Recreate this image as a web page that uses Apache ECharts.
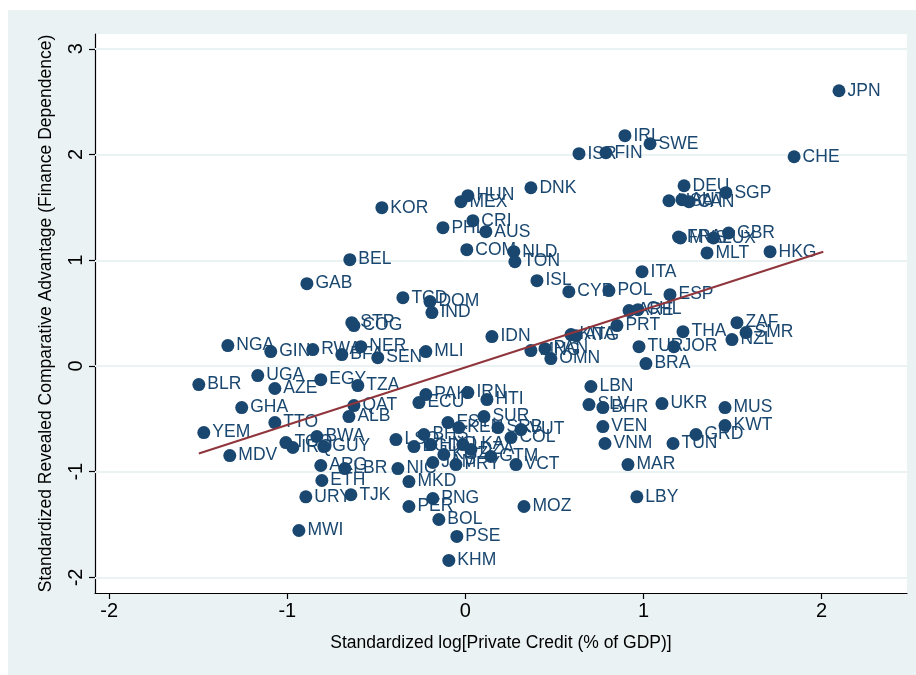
<!DOCTYPE html>
<html>
<head>
<meta charset="utf-8">
<script src="https://cdn.jsdelivr.net/npm/echarts@6/dist/echarts.min.js"></script>
<style>
html,body{margin:0;padding:0;background:#fff;}
#chart{width:916px;height:675px;}
</style>
</head>
<body>
<div id="chart"></div>
<script>
// ---- data ----
const codes = ["JPN","IRL","SWE","ISR","FIN","CHE","DNK","DEU","SGP","USA","AUT","CAN","HUN","MEX","KOR","CRI","PHL","AUS","COM","NLD","TON","BEL","GAB","ISL","CYP","POL","ITA","ESP","PRT","ARE","CHL","THA","ZAF","SMR","NZL","TUR","JOR","BRA","IDN","KNA","ATG","MNG","PAN","OMN","IND","TCD","DOM","STP","COG","NGA","GIN","RWA","BFA","NER","SEN","MLI","BLR","UGA","AZE","EGY","TZA","GHA","QAT","ALB","TTO","YEM","MDV","TGO","IRQ","BWA","GUY","ARG","LBR","ETH","URY","TJK","MWI","NIC","MKD","PNG","PER","BOL","PSE","KHM","MOZ","VCT","LBY","MAR","VNM","VEN","LBN","SLV","BHR","UKR","MUS","KWT","GRD","TUN","PAK","ECU","IRN","HTI","SUR","EST","KEN","SRB","VUT","COL","LSO","BHS","BGD","HND","KGZ","LKA","DZA","GTM","JAM","PRY","FRA","MYS","LUX","GBR","MLT","HKG"];
const privCredit = [2.098,0.896,1.037,0.638,0.789,1.846,0.368,1.228,1.463,1.143,1.216,1.256,0.014,-0.025,-0.469,0.042,-0.126,0.115,0.008,0.272,0.278,-0.649,-0.890,0.402,0.581,0.806,0.992,1.149,0.851,0.919,0.969,1.222,1.525,1.576,1.497,0.975,1.171,1.014,0.149,0.593,0.621,0.368,0.447,0.480,-0.188,-0.351,-0.199,-0.638,-0.626,-1.334,-1.093,-0.857,-0.694,-0.587,-0.492,-0.222,-1.497,-1.166,-1.070,-0.812,-0.604,-1.256,-0.626,-0.654,-1.070,-1.469,-1.323,-1.008,-0.969,-0.834,-0.795,-0.812,-0.677,-0.806,-0.896,-0.643,-0.935,-0.379,-0.317,-0.183,-0.317,-0.149,-0.048,-0.093,0.329,0.284,0.963,0.913,0.784,0.772,0.705,0.694,0.772,1.104,1.458,1.458,1.295,1.166,-0.222,-0.261,0.014,0.121,0.104,-0.098,-0.037,0.183,0.312,0.256,-0.390,-0.233,-0.289,-0.194,-0.121,-0.014,0.031,0.143,-0.183,-0.053,1.197,1.208,1.393,1.478,1.357,1.711];
const rcaFin = [2.603,2.178,2.102,2.008,2.017,1.979,1.686,1.705,1.639,1.563,1.573,1.554,1.611,1.554,1.497,1.374,1.308,1.270,1.100,1.081,0.987,1.006,0.779,0.807,0.703,0.713,0.892,0.675,0.382,0.524,0.533,0.325,0.410,0.316,0.250,0.183,0.183,0.023,0.278,0.297,0.287,0.146,0.164,0.070,0.505,0.646,0.609,0.410,0.382,0.193,0.136,0.155,0.108,0.183,0.079,0.136,-0.176,-0.091,-0.213,-0.129,-0.185,-0.393,-0.374,-0.478,-0.535,-0.630,-0.847,-0.724,-0.771,-0.667,-0.762,-0.941,-0.970,-1.083,-1.237,-1.218,-1.556,-0.970,-1.093,-1.253,-1.329,-1.452,-1.612,-1.839,-1.329,-0.932,-1.237,-0.932,-0.733,-0.573,-0.194,-0.365,-0.393,-0.355,-0.393,-0.563,-0.648,-0.733,-0.270,-0.346,-0.251,-0.318,-0.478,-0.535,-0.582,-0.582,-0.601,-0.677,-0.696,-0.648,-0.762,-0.743,-0.837,-0.743,-0.790,-0.856,-0.913,-0.932,1.220,1.211,1.211,1.258,1.069,1.081];
const fitX = [-1.497, 2.010];
const fitY = [-0.828, 1.081];
const xTicks = [-2,-1,0,1,2];
const yTicks = [-2,-1,0,1,2,3];
const xTitle = "Standardized log[Private Credit (% of GDP)]";
const yTitle = "Standardized Revealed Comparative Advantage (Finance Dependence)";

// ---- styles ----
const NAVY = "#1A476F";
const MAROON = "#90353B";
const BG = "#EAF2F3";
const FONT = "'Liberation Sans', Arial, Helvetica, sans-serif";

const points = codes.map((c, i) => ({ name: c, value: [privCredit[i], rcaFin[i]] }));
const fitLine = fitX.map((x, i) => [x, fitY[i]]);

const chart = echarts.init(document.getElementById('chart'), null, { renderer: 'canvas' });
chart.setOption({
  animation: false,
  backgroundColor: '#ffffff',
  graphic: [{
    type: 'rect', z: -100, silent: true,
    shape: { x: 8, y: 10, width: 908, height: 665 },
    style: { fill: BG }
  }],
  grid: {
    left: 95, right: 9, top: 34, bottom: 82,
    show: true, backgroundColor: '#ffffff', borderWidth: 0
  },
  xAxis: {
    type: 'value', min: -2.08, max: 2.48,
    name: xTitle, nameLocation: 'middle', nameGap: 41,
    nameTextStyle: { fontFamily: FONT, fontSize: 17.5, color: '#000' },
    axisLine: { show: true, onZero: false, lineStyle: { color: '#000', width: 1.2 } },
    axisTick: { show: true, length: 6, lineStyle: { color: '#000', width: 1.2 }, customValues: xTicks },
    axisLabel: { fontFamily: FONT, fontSize: 20, color: '#000', margin: 8, customValues: xTicks },
    splitLine: { show: false }
  },
  yAxis: {
    type: 'value', min: -2.147, max: 3.14,
    name: yTitle, nameLocation: 'middle', nameGap: 40, nameRotate: 90,
    nameTextStyle: { fontFamily: FONT, fontSize: 17.5, color: '#000' },
    axisLine: { show: true, onZero: false, lineStyle: { color: '#000', width: 1.2 } },
    axisTick: { show: true, length: 6, lineStyle: { color: '#000', width: 1.2 }, customValues: yTicks },
    axisLabel: { fontFamily: FONT, fontSize: 20, color: '#000', margin: 9, rotate: 90, customValues: yTicks },
    splitLine: { show: false }
  },
  series: [
    {
      type: 'scatter',
      data: points,
      symbolSize: 13,
      itemStyle: { color: NAVY, opacity: 1 },
      z: 3,
      label: {
        show: true, position: 'right', distance: 2,
        formatter: p => p.name,
        fontFamily: FONT, fontSize: 17.5, color: NAVY
      },
      labelLayout: { hideOverlap: false },
      markLine: {
        silent: true, symbol: ['none', 'none'], label: { show: false },
        lineStyle: { color: BG, width: 2, type: 'solid' },
        data: yTicks.map(v => ({ yAxis: v })),
        z: 1
      }
    },
    {
      type: 'line',
      data: fitLine,
      showSymbol: false,
      symbol: 'none',
      lineStyle: { color: MAROON, width: 2 },
      z: 4
    }
  ]
});
</script>
</body>
</html>
